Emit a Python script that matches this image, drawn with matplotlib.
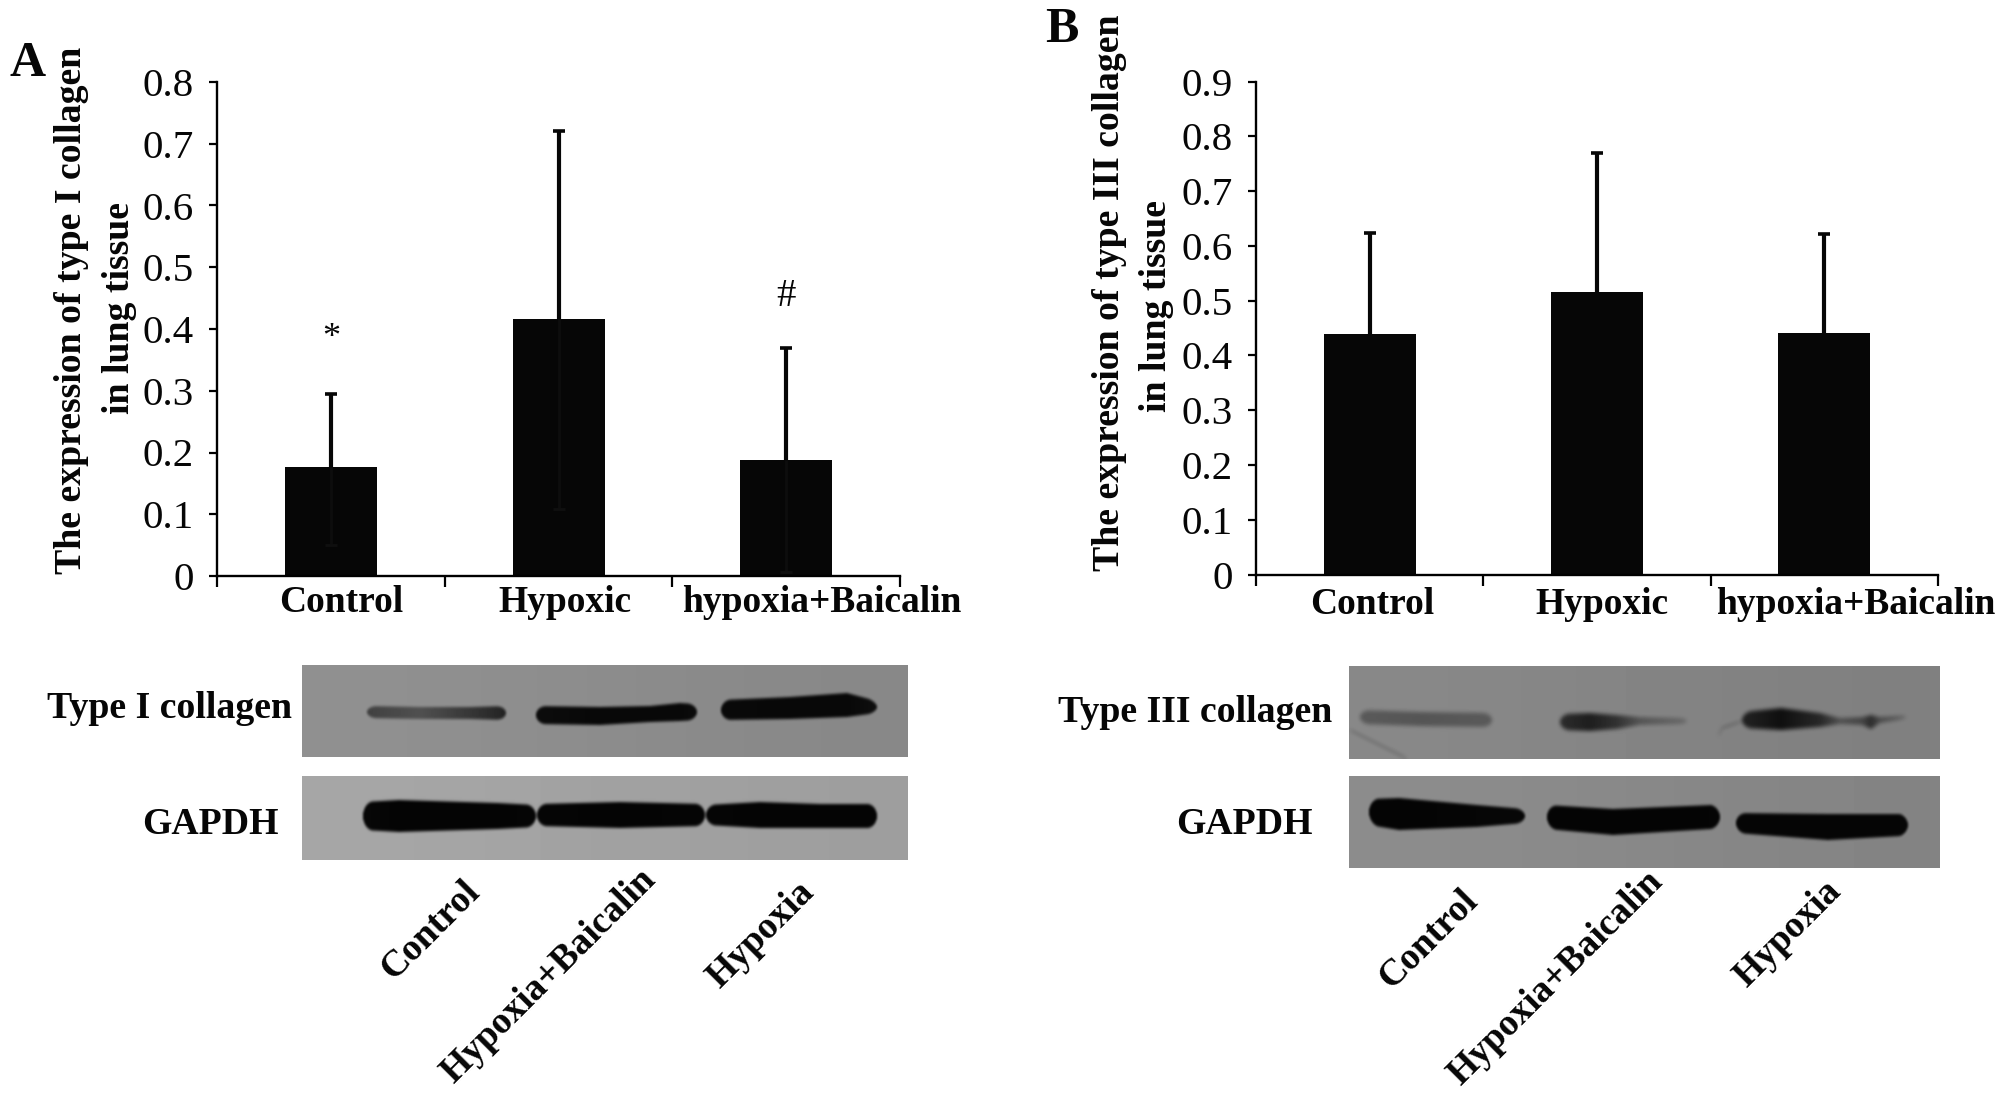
import numpy as np
import matplotlib
matplotlib.use("Agg")
import matplotlib.pyplot as plt

W, H = 2008, 1102
SERIF = "Liberation Serif"

### chart values
groups = ["Control", "Hypoxic", "hypoxia+Baicalin"]
type1_mean = [0.177, 0.417, 0.188]
type1_upper = [0.294, 0.721, 0.370]
type1_lower = [0.050, 0.108, 0.007]
type3_mean = [0.439, 0.515, 0.441]
type3_upper = [0.624, 0.770, 0.622]
type1_ticks = [0, 0.1, 0.2, 0.3, 0.4, 0.5, 0.6, 0.7, 0.8]
type3_ticks = [0, 0.1, 0.2, 0.3, 0.4, 0.5, 0.6, 0.7, 0.8, 0.9]
tick_labels1 = ["0", "0.1", "0.2", "0.3", "0.4", "0.5", "0.6", "0.7", "0.8"]
tick_labels3 = ["0", "0.1", "0.2", "0.3", "0.4", "0.5", "0.6", "0.7", "0.8", "0.9"]
lanes = ["Control", "Hypoxia+Baicalin", "Hypoxia"]

### blot bands: (x, y centre, half height, gray level) along each band, in figure pixels
blot_a1 = [
    [(367, 712, 6, 65), (420, 713, 6, 80), (470, 713, 6, 55), (506, 713, 7, 35)],
    [(536, 715, 9, 12), (600, 716, 9, 8), (650, 714, 8, 8), (680, 712, 9, 8), (697, 712, 8, 12)],
    [(721, 710, 10, 10), (790, 708, 11, 8), (847, 705, 12, 8), (877, 707, 6, 15)],
]
blot_a2 = [
    [(363, 816, 14, 8), (399, 816, 16, 4), (498, 816, 13, 4), (536, 816, 11, 6)],
    [(537, 815, 11, 6), (620, 815, 13, 4), (705, 815, 11, 6)],
    [(706, 815, 10, 6), (760, 815, 13, 4), (820, 816, 12, 4), (877, 816, 12, 5)],
]
blot_b1 = [
    [(1360, 717, 7, 90), (1420, 719, 7, 85), (1492, 720, 7, 90)],
    [(1560, 722, 8, 45), (1590, 722, 9, 30), (1617, 722, 7, 50), (1640, 721, 4, 85), (1687, 721, 3, 105)],
    [(1742, 720, 8, 35), (1781, 719, 11, 15), (1820, 720, 7, 40), (1840, 721, 3, 80), (1862, 721, 4, 70),
     (1871, 722, 7, 45), (1880, 720, 3, 75), (1906, 717, 2, 100)],
    [(1719, 735, 2, 60), (1722, 728, 1, 90), (1742, 721, 1, 95)],
    [(1350, 730, 0.5, 80), (1406, 758, 0.5, 80)],
]
blot_b2 = [
    [(1369, 812, 13, 5), (1399, 814, 16, 4), (1477, 816, 11, 6), (1525, 816, 7, 8)],
    [(1547, 817, 12, 5), (1613, 822, 13, 4), (1711, 817, 12, 5), (1720, 817, 11, 6)],
    [(1736, 823, 10, 6), (1828, 827, 13, 5), (1902, 825, 11, 6), (1908, 825, 10, 8)],
]


def px_axes(fig, left, top, right, bottom):
    return fig.add_axes([left / W, 1 - bottom / H, (right - left) / W, (bottom - top) / H])


def put(fig, x, y, s, **kw):
    kw.setdefault("family", SERIF)
    kw.setdefault("color", "#060606")
    fig.text(x / W, 1 - y / H, s, **kw)


### bar panel with only left and bottom axis
def bar_panel(ax, means, upper, lower, ticks, labels, ymax):
    x = np.arange(len(means))
    ax.bar(x, means, width=0.405, color="#060606", zorder=2)
    ax.vlines(x, means, upper, color="#060606", linewidth=3.0, zorder=3)
    ax.plot(x, upper, "_", color="#060606", markersize=8, markeredgewidth=2.6, zorder=3)
    ### lower whiskers only just show against the bars
    if lower is not None:
        ax.vlines(x, lower, means, color="#0d0d0d", linewidth=2.0, zorder=3)
        ax.plot(x, lower, "_", color="#0f0f0f", markersize=8, markeredgewidth=2.0, zorder=3)
    ax.set_xlim(-0.5, 2.5)
    ax.set_ylim(0, ymax)
    ax.set_yticks(ticks)
    ax.set_yticklabels(labels, family=SERIF, fontsize=29.5, color="#060606")
    ax.set_xticks([-0.5, 0.5, 1.5, 2.5])
    ax.set_xticklabels([])
    ax.tick_params(axis="y", length=6, width=1.6, pad=11)
    ax.tick_params(axis="x", length=8, width=1.6)
    for side in ["top", "right"]:
        ax.spines[side].set_visible(False)
    for side in ["left", "bottom"]:
        ax.spines[side].set_linewidth(1.7)
    ax.spines["left"].set_bounds(0, ymax)
    ax.set_facecolor("none")


def blur(img, size):
    k = np.hanning(size + 2)[1:-1]
    k = k / k.sum()
    pad = size // 2
    out = np.pad(img, pad, mode="edge")
    out = np.apply_along_axis(lambda r: np.convolve(r, k, mode="same"), 1, out)
    out = np.apply_along_axis(lambda c: np.convolve(c, k, mode="same"), 0, out)
    return out[pad:-pad, pad:-pad]


### gray film with dark bands painted in
def blot(fig, rect, bg, bands, soft=5):
    left, top, right, bottom = rect
    xs = np.arange(left, right) + 0.5
    ys = np.arange(top, bottom) + 0.5
    img = np.full((len(ys), len(xs)), float(bg))
    img += 4 * np.cos((xs - left) / (right - left) * 3.1)[None, :]
    for band in bands:
        pts = np.array(band, dtype=float)
        yc = np.interp(xs, pts[:, 0], pts[:, 1])
        half = np.interp(xs, pts[:, 0], pts[:, 2])
        level = np.interp(xs, pts[:, 0], pts[:, 3])
        x0, x1 = pts[0, 0], pts[-1, 0]
        taper = 10.0
        for i in np.where((xs >= x0) & (xs <= x1))[0]:
            t = min(xs[i] - x0, x1 - xs[i]) / taper
            h = half[i] * np.sqrt(1 - (1 - min(t, 1)) ** 2)
            d = np.abs(ys - yc[i]) - h
            a = np.clip(0.5 - d / 3.0, 0, 1)
            img[:, i] = img[:, i] * (1 - a) + level[i] * a
    img = blur(img, soft)
    ax = px_axes(fig, left, top, right, bottom)
    ax.imshow(img, cmap="gray", vmin=0, vmax=255, aspect="auto", interpolation="bilinear")
    ax.axis("off")


def main():
    fig = plt.figure(figsize=(W / 100, H / 100), dpi=100, facecolor="white")

    ax1 = px_axes(fig, 217.5, 82, 900, 576)
    bar_panel(ax1, type1_mean, type1_upper, type1_lower, type1_ticks, tick_labels1, 0.8)
    ax1.text(0, 0.385, "*", family=SERIF, fontsize=26, ha="center", va="center", color="#060606")
    ax1.text(2, 0.452, "#", family=SERIF, fontsize=28, ha="center", va="center", color="#060606")

    ax3 = px_axes(fig, 1256, 81.6, 1938, 574.6)
    bar_panel(ax3, type3_mean, type3_upper, None, type3_ticks, tick_labels3, 0.9)

    bold = dict(fontweight="bold", ha="center", va="center")
    put(fig, 10, 64, "A", fontsize=36, fontweight="bold", ha="left", va="center")
    put(fig, 1045, 30, "B", fontsize=36, fontweight="bold", ha="left", va="center")

    put(fig, 72, 310, "The expression of type I collagen", fontsize=27.2, rotation=90, **bold)
    put(fig, 120, 308, "in lung tissue", fontsize=27.2, rotation=90, **bold)
    put(fig, 1110, 293, "The expression of type III collagen", fontsize=27.2, rotation=90, **bold)
    put(fig, 1156, 306, "in lung tissue", fontsize=27.2, rotation=90, **bold)

    for name, x in zip(groups, [341, 565, 822]):
        put(fig, x, 603, name, fontsize=27, **bold)
    for name, x in zip(groups, [1372, 1602, 1856]):
        put(fig, x, 605, name, fontsize=27, **bold)

    blot(fig, (302, 665, 908, 757), 140, blot_a1)
    blot(fig, (302, 776, 908, 860), 162, blot_a2)
    blot(fig, (1349, 666, 1940, 759), 132, blot_b1, soft=9)
    blot(fig, (1349, 776, 1940, 868), 136, blot_b2)

    right = dict(fontweight="bold", ha="right", va="center")
    put(fig, 292, 708, "Type I collagen", fontsize=27.2, **right)
    put(fig, 279, 825, "GAPDH", fontsize=27.2, **right)
    put(fig, 1332, 712, "Type III collagen", fontsize=27.2, **right)
    put(fig, 1313, 825, "GAPDH", fontsize=27.2, **right)

    ### rotated lane names under the blots
    slant = dict(fontweight="bold", ha="center", va="center", rotation=45,
                 rotation_mode="anchor", fontsize=27)
    for name, x, y in zip(lanes, [430, 549, 761], [930, 976, 935]):
        put(fig, x, y, name, **slant)
    for name, x, y in zip(lanes, [1428, 1556, 1788], [939, 978, 934]):
        put(fig, x, y, name, **slant)

    fig.savefig("out.png", dpi=100, facecolor="white")
    plt.close(fig)


if __name__ == "__main__":
    main()
